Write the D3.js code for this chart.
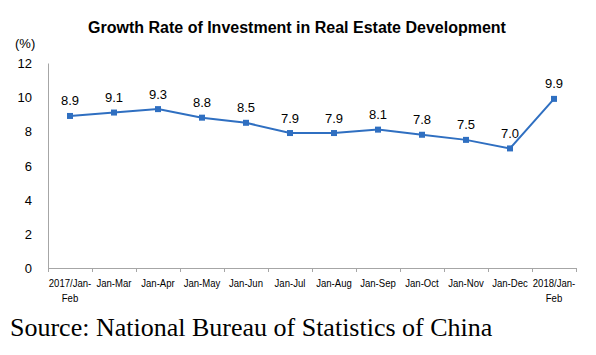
<!DOCTYPE html>
<html><head><meta charset="utf-8">
<script src="https://cdn.jsdelivr.net/npm/d3@7"></script>
<style>body{margin:0;background:#fff;}svg{display:block;}</style>
</head><body>
<script>
const categories = [["2017/Jan-","Feb"],["Jan-Mar"],["Jan-Apr"],["Jan-May"],["Jan-Jun"],["Jan-Jul"],["Jan-Aug"],["Jan-Sep"],["Jan-Oct"],["Jan-Nov"],["Jan-Dec"],["2018/Jan-","Feb"]];
const values = [8.9, 9.1, 9.3, 8.8, 8.5, 7.9, 7.9, 8.1, 7.8, 7.5, 7.0, 9.9];
const yTicks = [0, 2, 4, 6, 8, 10, 12];

const W = 596, H = 355;
const svg = d3.select("body").append("svg").attr("width", W).attr("height", H);
const x = d3.scaleBand().domain(d3.range(categories.length)).range([48, 576]);
const y = d3.scaleLinear().domain([0, 12]).range([268, 63]);
const color = "#2f6fc1";

svg.append("text").attr("x", 297).attr("y", 33).attr("text-anchor", "middle")
  .attr("font-family", "Liberation Sans, Arial").attr("font-weight", "bold").attr("font-size", 16)
  .text("Growth Rate of Investment in Real Estate Development");
svg.append("text").attr("x", 15).attr("y", 48).attr("font-family", "Liberation Sans, Arial").attr("font-size", 13).text("(%)");

// y axis
const ya = svg.append("g").attr("transform", "translate(48,0)")
  .call(d3.axisLeft(y).tickValues(yTicks).tickSize(0).tickPadding(0).tickFormat(d3.format("d")));
ya.select(".domain").attr("stroke", "#a6a6a6");
ya.selectAll("text").attr("x", -16).attr("dy", "0.35em").attr("font-family", "Liberation Sans, Arial").attr("font-size", 13).attr("fill", "#000");

// x axis
const xa = svg.append("g").attr("transform", "translate(0,268)")
  .call(d3.axisBottom(d3.scaleLinear().domain([0, categories.length]).range([48, 576]))
    .tickValues(d3.range(categories.length + 1)).tickSize(4).tickSizeOuter(0).tickFormat(""));
xa.select(".domain").attr("stroke", "#a6a6a6");
xa.selectAll(".tick line").attr("stroke", "#a6a6a6");

const labels = svg.append("g").attr("font-family", "Liberation Sans, Arial").attr("font-size", 10.5).attr("text-anchor", "middle");
categories.forEach((c, i) => {
  c.forEach((s, j) => {
    const t = labels.append("text").attr("x", x(i) + x.bandwidth() / 2).attr("y", 287 + j * 14.5).text(s);
    const w = t.node().getComputedTextLength();
    t.attr("textLength", w * 0.91).attr("lengthAdjust", "spacingAndGlyphs");
  });
});

const cx = (d, i) => x(i) + x.bandwidth() / 2;
svg.append("path").datum(values)
  .attr("d", d3.line().x(cx).y(d => y(d)))
  .attr("fill", "none").attr("stroke", color).attr("stroke-width", 2);
svg.append("g").selectAll("rect").data(values).join("rect")
  .attr("x", (d, i) => cx(d, i) - 3).attr("y", d => y(d) - 3).attr("width", 6).attr("height", 6).attr("fill", color);
svg.append("g").selectAll("text").data(values).join("text")
  .attr("x", cx).attr("y", d => y(d) - 10.5).attr("text-anchor", "middle")
  .attr("font-family", "Liberation Sans, Arial").attr("font-size", 13).text(d => d.toFixed(1));

svg.append("text").attr("x", 10).attr("y", 336).attr("font-family", "Liberation Serif, Times New Roman").attr("font-size", 26)
  .text("Source: National Bureau of Statistics of China");
</script>
</body></html>
